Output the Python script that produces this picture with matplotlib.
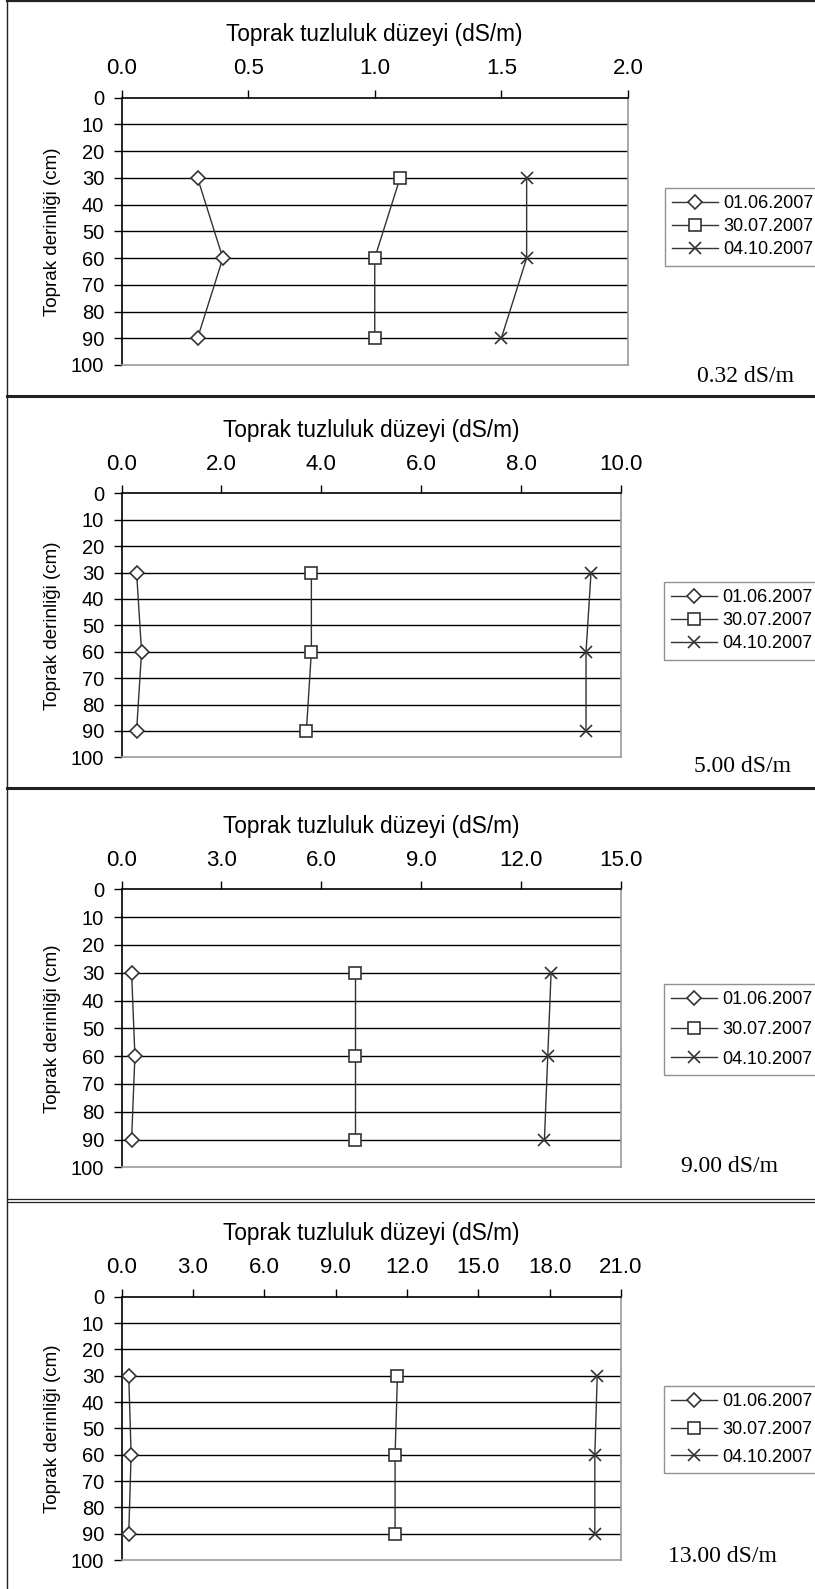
import matplotlib
matplotlib.use('Agg')
import matplotlib.pyplot as plt
from matplotlib.lines import Line2D

plt.rcParams['font.family'] = ['Liberation Sans', 'DejaVu Sans']

# veriler: derinlik (cm) ve tarihlere göre toprak tuzluluğu (dS/m)
depth = [30, 60, 90]
dates = ['01.06.2007', '30.07.2007', '04.10.2007']
markers = ['D', 's', 'x']

p1_0106 = [0.3, 0.4, 0.3]
p1_3007 = [1.1, 1.0, 1.0]
p1_0410 = [1.6, 1.6, 1.5]

p2_0106 = [0.3, 0.4, 0.3]
p2_3007 = [3.8, 3.8, 3.7]
p2_0410 = [9.4, 9.3, 9.3]

p3_0106 = [0.3, 0.4, 0.3]
p3_3007 = [7.0, 7.0, 7.0]
p3_0410 = [12.9, 12.8, 12.7]

p4_0106 = [0.3, 0.4, 0.3]
p4_3007 = [11.6, 11.5, 11.5]
p4_0410 = [20.0, 19.9, 19.9]

water = ['0.32 dS/m', '5.00 dS/m', '9.00 dS/m', '13.00 dS/m']
xmax = [2.0, 10.0, 15.0, 21.0]
xstep = [0.5, 2.0, 3.0, 3.0]
yticks = list(range(0, 101, 10))

W, H = 815, 1589
fig = plt.figure(figsize=(W / 100, H / 100), dpi=100)

# eksen yerleri (piksel): sol, sag, ust, alt
boxes = [(121.6, 627.9, 97.7, 365.0),
         (121.6, 621.0, 493.3, 757.3),
         (121.6, 621.0, 889.3, 1167.3),
         (121.6, 621.0, 1296.7, 1560.0)]
# lejant: sol, ust, satir araligi
leg_pos = [(665, 188, 0.34), (664, 582, 0.34), (664, 984, 0.7), (664, 1386, 0.59)]
txt_pos = [(697, 376), (694, 766), (681, 1167), (668, 1556)]


def panel(i, series):
    l, r, t, b = boxes[i]
    ax = fig.add_axes([l / W, 1 - b / H, (r - l) / W, (b - t) / H])
    for vals, mk, lab in zip(series, markers, dates):
        ax.plot(vals, depth, color='#333333', lw=1.0, marker=mk,
                markersize=7 if mk == 'D' else 8, markerfacecolor='white',
                markeredgecolor='#333333', markeredgewidth=1.2, label=lab,
                zorder=3)
    ax.set_xlim(0, xmax[i])
    ax.set_ylim(100, 0)
    xt = [k * xstep[i] for k in range(int(round(xmax[i] / xstep[i])) + 1)]
    ax.set_xticks(xt)
    ax.set_xticklabels(['%.1f' % v for v in xt])
    ax.set_yticks(yticks)
    ax.xaxis.tick_top()
    ax.xaxis.set_label_position('top')
    ax.tick_params(axis='x', direction='out', length=5.5, width=1,
                   labelsize=16, pad=8)
    ax.tick_params(axis='y', direction='out', length=5.5, width=1,
                   labelsize=14.5, pad=7)
    ax.set_xlabel('Toprak tuzluluk düzeyi (dS/m)', fontsize=16.3, labelpad=12)
    ax.set_ylabel('Toprak derinliği (cm)', fontsize=13.5, labelpad=7)
    for y in range(10, 100, 10):
        ax.axhline(y, color='black', lw=1.0, zorder=1)
    ax.spines['top'].set_color('black')
    ax.spines['left'].set_color('black')
    ax.spines['right'].set_color('#999999')
    ax.spines['bottom'].set_color('#999999')
    for s in ax.spines.values():
        s.set_linewidth(1.2)

    lx, ly, sp = leg_pos[i]
    leg = ax.legend(loc='upper left', bbox_to_anchor=(lx / W, 1 - ly / H),
                    bbox_transform=fig.transFigure, fontsize=13,
                    frameon=True, fancybox=False, borderaxespad=0,
                    handlelength=2.55, handletextpad=0.3, labelspacing=sp,
                    borderpad=0.4)
    leg.get_frame().set_edgecolor('#777777')
    leg.get_frame().set_linewidth(1.0)

    tx, ty = txt_pos[i]
    fig.text(tx / W, 1 - ty / H, water[i], family='Liberation Serif',
             fontsize=17, ha='left', va='center')


panel(0, [p1_0106, p1_3007, p1_0410])
panel(1, [p2_0106, p2_3007, p2_0410])
panel(2, [p3_0106, p3_3007, p3_0410])
panel(3, [p4_0106, p4_3007, p4_0410])

# panel cerceveleri
def hline(y, lw):
    fig.add_artist(Line2D([7 / W, 1], [1 - y / H, 1 - y / H], color='#222222', lw=lw))

hline(1, 1.6)
hline(395.5, 2.2)
hline(788, 2.2)
hline(1198.5, 0.9)
hline(1201.5, 0.9)
fig.add_artist(Line2D([7 / W, 7 / W], [0, 1], color='#222222', lw=1.0))

fig.savefig('out.png', dpi=100)
